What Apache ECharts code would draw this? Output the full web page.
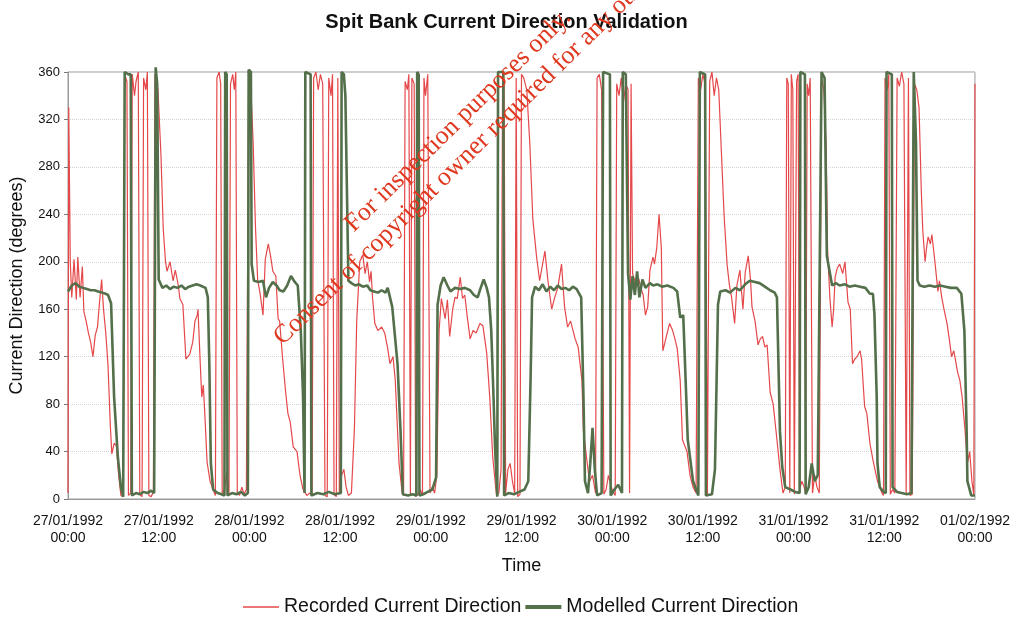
<!DOCTYPE html>
<html>
<head>
<meta charset="utf-8">
<script src="https://cdn.jsdelivr.net/npm/echarts@6/dist/echarts.min.js"></script>
<style>
  html, body { margin: 0; padding: 0; background: #fff; }
  #chart { width: 1013px; height: 618px; }
</style>
</head>
<body>
<div id="chart"></div>
<script>
// hours after 27/01/1992 00:00
let recHours = [
  0, 0.1, 0.3, 0.5, 0.8, 1.1, 1.3, 1.6, 1.9, 2.1, 2.4, 2.7, 3.0, 3.3, 3.6, 3.9, 4.2, 4.45, 4.7, 5.0, 5.3, 5.6, 5.8, 6.1, 6.4, 6.7, 7.0,
  7.3, 7.5, 7.8, 8.0, 8.3, 8.5, 8.8, 9.0, 9.3, 9.5, 9.8, 10.0, 10.3, 10.5, 10.7, 11.0, 11.3, 11.5, 11.9, 12.3, 12.6, 12.9,
  13.1, 13.5, 13.9, 14.2, 14.6, 14.8, 15.2, 15.6, 16.1, 16.5, 16.8, 17.1, 17.2, 17.5, 17.7, 17.9, 18.1, 18.4, 18.8, 19.2,
  19.5, 19.7, 20.0, 20.2, 20.4, 20.7, 21.0, 21.3, 21.5, 21.8, 22.0, 22.2, 22.4, 22.7, 23.0, 23.3, 23.6, 23.9, 24.2, 24.5, 24.8,
  25.1, 25.4, 25.8, 26.1, 26.5, 26.8, 27.1, 27.5, 27.8, 28.0, 28.4, 28.8, 29.1, 29.4, 29.8, 30.3, 30.7, 31.1,
  31.6, 32.0, 32.3, 32.5, 32.8, 33.1, 33.4, 33.7, 34.0, 34.3, 34.5, 34.8, 35.0, 35.2, 35.5, 35.7, 35.9, 36.2, 36.5, 36.8, 37.1, 37.5, 37.9, 38.2, 38.6,
  39.0, 39.3, 39.6, 39.9, 40.1, 40.3, 40.6, 41.0, 41.5, 41.9, 42.3, 42.6, 43.0, 43.3, 43.5, 43.8, 44.2,
  44.4, 44.6, 44.9, 45.1, 45.3, 45.5, 45.8, 46.0, 46.3, 46.6, 46.9, 47.1, 47.3, 47.6, 47.9, 48.2, 48.5, 48.8, 49.1, 49.4, 49.9, 50.2, 50.5, 50.9, 51.2, 51.5, 51.9, 52.2, 52.5, 52.8, 53.2, 53.6, 54.0, 54.5, 54.9, 55.4, 55.8, 56.2, 56.7,
  57.0, 57.3, 57.5, 57.7, 57.9, 58.2, 58.5, 58.8, 59.1, 59.3, 59.5, 59.8, 60.0, 60.3, 60.7, 61.1, 61.5,
  62.0, 62.4, 63.1, 63.5, 64.0, 64.4, 64.8, 65.3, 65.7, 66.1, 66.5, 67.1, 67.5, 68.0, 68.2, 68.7, 69.0,
  69.4, 69.8, 70.0, 70.3, 70.6, 70.9, 71.2, 71.5, 71.8, 72.1, 72.4, 72.6, 72.9, 73.2, 73.5, 73.8, 74.1, 74.3, 74.5, 74.7, 75.1, 75.5, 75.8, 76.1, 76.4, 76.7, 77.0, 77.4, 77.6, 77.9, 78.2, 78.5, 78.7, 78.9, 79.2, 79.6, 80.0, 80.3, 80.6, 81.0, 81.3, 81.6, 81.9, 82.3, 82.7, 83.1,
  83.4, 83.7, 84.0, 84.3, 84.6, 84.9, 85.2, 85.5, 85.8, 86.1, 86.4, 86.8, 87.2, 87.5, 87.8, 88.2, 88.5, 88.9, 89.3, 89.6, 90.0, 90.3, 90.5, 90.9, 91.3, 91.6, 91.9, 92.2, 92.5, 92.9, 93.3, 93.8, 94.2, 94.6,
  94.9, 95.1, 95.3, 95.5, 95.7, 95.9, 96.1, 96.4, 96.6, 96.8, 97.1, 97.4, 97.6, 97.8, 98.0, 98.2, 98.5, 98.8, 99.1, 99.4, 99.7, 100.0, 100.3, 100.5, 100.8, 101.1, 101.3, 101.5, 101.8, 102.1, 102.5, 102.8, 103.2, 103.5, 103.8, 104.1, 104.4, 104.8, 105.0, 105.4, 105.7, 106.1, 106.5, 107.1, 107.7,
  107.9, 108.1, 108.4, 108.6, 108.8, 109.1, 109.4, 109.7, 110.0, 110.3, 110.6, 110.9, 111.2, 111.4, 111.7, 112.0, 112.3, 112.6, 112.9, 113.1, 113.4, 113.6, 113.8, 114.1, 114.3, 114.7, 115.1, 115.3, 115.6, 115.9, 116.3, 116.6, 116.9, 117.2, 117.4, 117.7, 118.0, 118.3, 118.7, 119.0, 119.3, 119.6, 119.85, 120.0
];
let recDeg = [
  5, 330, 200, 170, 202, 168, 204, 170, 196, 158, 150, 140, 132, 120, 138, 145, 168, 185, 160, 140, 112, 62, 38, 47, 45, 20, 3,
  2, 358, 352, 3, 5, 358, 340, 352, 360, 4, 2, 355, 345, 360, 3, 2, 6, 358, 345, 290, 228, 200,
  192, 200, 184, 193, 180, 169, 164, 118, 122, 132, 150, 155, 160, 114, 86, 96, 72, 31, 15, 8,
  3, 355, 360, 350, 5, 8, 22, 5, 350, 358, 345, 360, 5, 3, 10, 4, 8, 355, 345, 300, 230,
  184, 174, 155, 202, 215, 205, 192, 188, 152, 150, 118, 90, 72, 65, 44, 40, 20, 8,
  3, 5, 3, 355, 360, 345, 358, 350, 3, 2, 355, 340, 358, 4, 2, 355, 5, 20, 25, 10, 3, 5, 60, 150, 200,
  206, 190, 200, 183, 192, 169, 148, 142, 145, 140, 127, 114, 120, 100, 72, 30, 6,
  3, 352, 345, 358, 3, 355, 350, 2, 4, 8, 3, 355, 340, 358, 5, 10, 5, 20, 142, 169, 152, 168, 137, 160, 170, 169, 187, 169, 172, 155, 135, 142, 140, 148, 146, 123, 86, 35, 3,
  5, 25, 358, 350, 5, 25, 30, 15, 5, 355, 2, 4, 358, 355, 345, 300, 236,
  204, 184, 209, 184, 160, 170, 178, 198, 162, 145, 150, 135, 128, 100, 57, 30, 15,
  20, 5, 355, 358, 345, 4, 8, 20, 12, 6, 3, 350, 340, 355, 335, 350, 345, 5, 350, 190, 182, 186, 178, 172, 155, 162, 193, 204, 198, 212, 240, 212, 125, 130, 138, 148, 142, 135, 127, 100, 50, 45, 40, 20, 10, 5,
  355, 345, 358, 350, 3, 352, 360, 340, 355, 345, 300, 240, 198, 181, 170, 148, 180, 193, 160, 191, 205, 185, 162, 150, 130, 135, 137, 128, 130, 90, 80, 50, 25, 5,
  10, 355, 350, 5, 358, 345, 4, 352, 358, 8, 15, 10, 5, 350, 340, 355, 5, 20, 10, 5, 355, 345, 300, 210, 170, 145, 160, 187, 195, 198, 190, 200, 166, 160, 114, 118, 120, 125, 118, 78, 72, 47, 33, 15, 5,
  3, 355, 345, 358, 4, 8, 5, 355, 348, 360, 350, 5, 355, 3, 4, 350, 345, 330, 260, 226, 200, 212, 221, 215, 223, 200, 175, 184, 170, 160, 148, 135, 120, 125, 118, 107, 100, 86, 57, 30, 40, 15, 3, 350
];

let modHours = [
  0, 0.5, 1.0, 1.5, 2.0, 2.5, 3.0, 3.5, 4.0, 4.5, 5.0, 5.3, 5.7, 6.1, 6.6, 7.0, 7.3, 7.5, 8.0, 8.3, 8.45, 9.0, 9.5, 10.0, 10.5, 11.0, 11.4, 11.6, 11.8,
  12.0, 12.5, 13.0, 13.5, 14.0, 14.5, 15.0, 15.5, 16.0, 16.5, 17.0, 17.5, 18.2, 18.5, 18.7, 18.9, 19.2, 19.8, 20.3, 20.7, 20.8, 21.0, 21.1, 21.7, 22.3, 22.9, 23.4, 23.8, 23.9, 24.2,
  24.3, 24.6, 25.2, 25.8, 26.2, 26.6, 27.1, 27.6, 28.0, 28.5, 29.0, 29.5, 30.0, 30.4, 30.8, 31.1, 31.3, 31.4, 32.1, 32.2, 33.0, 33.8, 34.5, 35.3, 36.1, 36.2, 36.5, 36.7,
  37.1, 37.5, 38.0, 38.5, 39.0, 39.6, 40.0, 40.5, 41.0, 41.5, 42.0, 42.3, 42.6, 42.9, 43.6, 44.0, 44.3, 45.0, 45.6, 46.1, 46.2, 46.4, 46.5, 47.0, 47.6, 48.2, 48.7,
  48.9, 49.3, 49.7, 50.2, 50.6, 51.2, 51.9, 52.5, 53.2, 53.7, 54.2, 54.6, 55.0, 55.4, 55.7, 56.0, 56.3, 56.5, 56.8, 56.9, 57.6, 57.7, 58.3, 59.0, 59.7, 60.4, 60.9,
  61.2, 61.4, 61.8, 62.3, 62.8, 63.3, 63.8, 64.3, 64.8, 65.3, 65.8, 66.3, 66.8, 67.3, 67.9, 68.2, 68.4, 68.8, 69.1, 69.4, 69.7, 70.0, 70.6, 70.8, 71.7, 71.8, 72.3, 72.8, 73.3, 73.4, 73.8,
  74.1, 74.4, 74.7, 75.0, 75.3, 75.6, 76.0, 76.4, 77.0, 77.4, 78.0, 78.6, 79.3, 80.1, 80.6, 81.0, 81.4, 81.8, 82.0, 82.7, 83.4, 83.6, 84.3, 84.4, 85.2, 85.6,
  86.0, 86.3, 87.0, 87.6, 88.3, 88.9, 89.6, 90.2, 90.9, 91.5, 92.2, 92.9, 93.5, 93.8, 93.9, 94.2, 94.5, 94.9, 95.6, 96.2, 96.8, 96.9, 97.5, 97.6, 98.0, 98.4, 98.8, 99.2, 99.7, 100.1,
  100.4, 101.1, 101.6, 102.1, 102.8, 103.4, 104.1, 104.8, 105.5, 106.1, 106.5, 106.7, 107.0, 107.1, 107.4, 107.9, 108.2, 108.3, 109.0, 109.1, 109.7, 110.3, 111.0, 111.6, 111.9, 112.2,
  112.4, 112.7, 113.3, 114.0, 114.7, 115.4, 116.1, 116.8, 117.6, 118.2, 118.6, 118.9, 119.0, 119.5, 120.0
];
let modDeg = [
  175, 180, 182, 179, 178, 177, 176, 176, 175, 174, 173, 172, 165, 86, 35, 10, 2, 360, 358, 358, 3, 5, 4, 6, 5, 7, 5, 364, 350,
  185, 178, 180, 177, 179, 178, 180, 177, 179, 180, 181, 180, 178, 170, 114, 30, 8, 5, 4, 3, 360, 358, 3, 5, 4, 6, 3, 5, 362, 360,
  198, 184, 183, 184, 170, 178, 183, 180, 176, 175, 180, 188, 183, 180, 142, 86, 5, 360, 358, 3, 5, 4, 6, 4, 5, 360, 358, 340,
  184, 182, 180, 181, 179, 180, 176, 175, 174, 176, 174, 178, 170, 162, 114, 57, 4, 3, 4, 3, 360, 358, 3, 4, 6, 8, 18,
  164, 180, 187, 180, 175, 178, 177, 178, 176, 172, 170, 178, 185, 178, 170, 142, 86, 44, 2, 360, 360, 3, 5, 4, 6, 8, 15,
  100, 170, 179, 176, 181, 175, 179, 176, 180, 177, 178, 176, 179, 177, 170, 86, 15, 5, 30, 60, 25, 3, 5, 360, 358, 3, 8, 12, 5, 360, 358,
  190, 168, 188, 172, 192, 170, 185, 178, 182, 180, 181, 179, 180, 178, 175, 153, 155, 86, 50, 15, 3, 360, 358, 3, 4, 25,
  164, 175, 176, 174, 178, 176, 181, 184, 183, 182, 179, 176, 174, 170, 142, 57, 27, 10, 8, 6, 5, 360, 358, 4, 10, 30, 15, 20, 360, 355,
  205, 180, 182, 180, 181, 179, 180, 179, 178, 173, 173, 156, 86, 30, 10, 6, 5, 360, 358, 10, 6, 5, 4, 5, 360, 300,
  184, 180, 179, 180, 179, 180, 179, 178, 178, 173, 142, 57, 15, 3, 3
];

let yTicks = [0, 40, 80, 120, 160, 200, 240, 280, 320, 360];

let recData = recHours.map((h, i) => [h, recDeg[i]]);
let modData = modHours.map((h, i) => [h, modDeg[i]]);

function pad(n) {
  return n < 10 ? '0' + n : '' + n;
}

//小时 -> 日期文字
function hourLabel(h) {
  let d = new Date(Date.UTC(1992, 0, 27) + h * 3600 * 1000);
  return pad(d.getUTCDate()) + '/' + pad(d.getUTCMonth() + 1) + '/' + d.getUTCFullYear() +
    '\n' + pad(d.getUTCHours()) + ':' + pad(d.getUTCMinutes());
}

let chart = echarts.init(document.getElementById('chart'), null, { renderer: 'canvas' });

let font = 'Liberation Sans, Arial, sans-serif';
let serif = 'Liberation Serif, Times New Roman, serif';
let stampColor = '#e0381f';
let stampAngle = 44.5 * Math.PI / 180;

let option = {
  backgroundColor: '#ffffff',
  animation: false,
  textStyle: { fontFamily: font },
  title: {
    text: 'Spit Bank Current Direction Validation',
    left: 'center',
    top: 7,
    textStyle: { fontFamily: font, fontSize: 20, fontWeight: 'bold', color: '#111' }
  },
  legend: {
    top: 592,
    left: 238,
    itemWidth: 36,
    itemHeight: 4,
    itemGap: 4,
    textStyle: { fontFamily: font, fontSize: 19.5, color: '#111' },
    data: [
      { name: 'Recorded Current Direction', icon: 'path://M0 0H36V1.3H0Z' },
      { name: 'Modelled Current Direction', icon: 'path://M0 0H36V4H0Z' }
    ]
  },
  grid: {
    left: 67,
    right: 38,
    top: 72,
    bottom: 119,
    show: true,
    borderColor: '#9a9a9a',
    borderWidth: 1
  },
  xAxis: {
    type: 'value',
    min: 0,
    max: 120,
    interval: 12,
    name: 'Time',
    nameLocation: 'middle',
    nameGap: 58,
    nameTextStyle: { fontFamily: font, fontSize: 18, color: '#111' },
    axisLine: { lineStyle: { color: '#9a9a9a' } },
    axisTick: { show: false },
    splitLine: { show: false },
    axisLabel: {
      formatter: hourLabel,
      fontSize: 14,
      lineHeight: 17,
      color: '#111',
      margin: 14
    }
  },
  yAxis: {
    type: 'value',
    min: yTicks[0],
    max: yTicks[yTicks.length - 1],
    interval: 40,
    name: 'Current Direction (degrees)',
    nameLocation: 'middle',
    nameGap: 42,
    nameTextStyle: { fontFamily: font, fontSize: 18, color: '#111' },
    axisLine: { show: true, lineStyle: { color: '#9a9a9a' } },
    axisTick: { show: true, length: 4, lineStyle: { color: '#777' } },
    axisLabel: { fontSize: 13, color: '#111', margin: 8 },
    splitLine: { show: true, lineStyle: { color: '#d4d4d4', type: 'dotted', width: 1 } }
  },
  graphic: [
    {
      type: 'text',
      x: 349,
      y: 228,
      rotation: stampAngle,
      z: 100,
      style: {
        text: 'For inspection purposes only.',
        fill: stampColor,
        fontFamily: serif,
        fontSize: 26,
        textAlign: 'left',
        textVerticalAlign: 'middle'
      }
    },
    {
      type: 'text',
      x: 278,
      y: 341,
      rotation: stampAngle,
      z: 100,
      style: {
        text: 'Consent of copyright owner required for any other use.',
        fill: stampColor,
        fontFamily: serif,
        fontSize: 26,
        textAlign: 'left',
        textVerticalAlign: 'middle'
      }
    }
  ],
  series: [
    {
      name: 'Recorded Current Direction',
      type: 'line',
      data: recData,
      symbol: 'none',
      showSymbol: false,
      lineStyle: { color: '#e5484a', width: 1.2 },
      itemStyle: { color: '#e5484a' },
      z: 2
    },
    {
      name: 'Modelled Current Direction',
      type: 'line',
      data: modData,
      symbol: 'none',
      showSymbol: false,
      clip: false,
      lineStyle: { color: '#53704a', width: 2.6 },
      itemStyle: { color: '#53704a' },
      z: 3
    }
  ]
};

chart.setOption(option);
</script>
</body>
</html>
